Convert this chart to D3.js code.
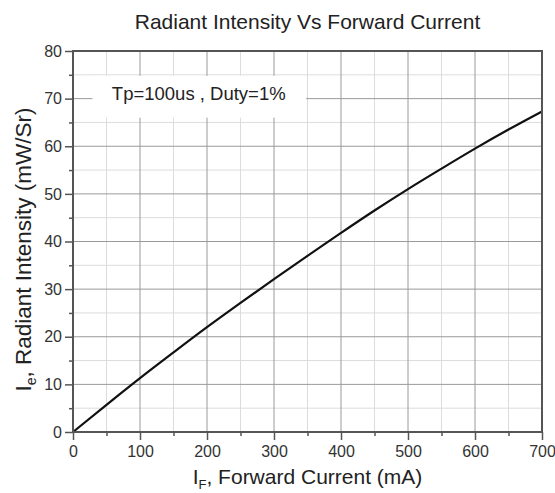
<!DOCTYPE html>
<html>
<head>
<meta charset="utf-8">
<script src="https://cdn.jsdelivr.net/npm/d3@7"></script>
<style>
  body { margin: 0; background: #fff; }
  svg { font-family: "Liberation Sans", Arial, sans-serif; }
</style>
</head>
<body>
<svg width="555" height="493"></svg>
<script>
  // forward current (mA) vs radiant intensity (mW/Sr)
  const currents = [0, 50, 100, 150, 200, 250, 300, 350, 400, 450, 500, 550, 600, 650, 700];
  const intensity = [0, 5.7, 11.3, 16.7, 22.0, 27.1, 32.1, 37.0, 41.8, 46.5, 51.0, 55.3, 59.5, 63.5, 67.3];

  const xTicks = [0, 100, 200, 300, 400, 500, 600, 700];
  const yTicks = [0, 10, 20, 30, 40, 50, 60, 70, 80];
  const xMinor = d3.range(50, 700, 100);
  const yMinor = d3.range(5, 80, 10);

  const titleText = "Radiant Intensity Vs Forward Current";
  const noteText = "Tp=100us , Duty=1%";

  const svg = d3.select("svg");
  const margin = { top: 51, right: 13, bottom: 61, left: 73 };
  const width = +svg.attr("width") - margin.left - margin.right;
  const height = +svg.attr("height") - margin.top - margin.bottom;
  const g = svg.append("g").attr("transform", `translate(${margin.left},${margin.top})`);

  const x = d3.scaleLinear().domain([0, 700]).range([0, width]);
  const y = d3.scaleLinear().domain([0, 80]).range([height, 0]);

  // minor grid
  g.append("g").selectAll("line")
    .data(xMinor)
    .join("line")
      .attr("x1", d => x(d)).attr("x2", d => x(d))
      .attr("y1", 0).attr("y2", height)
      .attr("stroke", "#dcdcdc");
  g.append("g").selectAll("line")
    .data(yMinor)
    .join("line")
      .attr("y1", d => y(d)).attr("y2", d => y(d))
      .attr("x1", 0).attr("x2", width)
      .attr("stroke", "#dcdcdc");

  // major grid
  g.append("g").selectAll("line")
    .data(xTicks.slice(1, -1))
    .join("line")
      .attr("x1", d => x(d)).attr("x2", d => x(d))
      .attr("y1", 0).attr("y2", height)
      .attr("stroke", "#9a9a9a");
  g.append("g").selectAll("line")
    .data(yTicks.slice(1, -1))
    .join("line")
      .attr("y1", d => y(d)).attr("y2", d => y(d))
      .attr("x1", 0).attr("x2", width)
      .attr("stroke", "#9a9a9a");

  // note box covers the grid
  g.append("rect")
    .attr("x", x(29))
    .attr("y", y(74.8))
    .attr("width", x(348) - x(29))
    .attr("height", y(66) - y(74.8))
    .attr("fill", "#fff");

  g.append("text")
    .attr("x", x(58))
    .attr("y", y(69.8))
    .style("font-size", "18.5px")
    .attr("fill", "#222")
    .text(noteText);

  // curve
  const line = d3.line()
    .x((d, i) => x(currents[i]))
    .y(d => y(d))
    .curve(d3.curveMonotoneX);

  g.append("path")
    .datum(intensity)
    .attr("fill", "none")
    .attr("stroke", "#111")
    .attr("stroke-width", 2.2)
    .attr("d", line);

  // axes
  const xAxis = g.append("g")
    .attr("transform", `translate(0,${height})`)
    .call(d3.axisBottom(x).tickValues(xTicks).tickSize(8).tickPadding(6).tickFormat(d3.format("d")));
  const yAxis = g.append("g")
    .call(d3.axisLeft(y).tickValues(yTicks).tickSize(8).tickPadding(3).tickFormat(d3.format("d")));

  g.append("g")
    .attr("transform", `translate(0,${height})`)
    .call(d3.axisBottom(x).tickValues(xMinor).tickSize(4).tickFormat(""))
    .call(a => a.select(".domain").remove());
  g.append("g")
    .call(d3.axisLeft(y).tickValues(yMinor).tickSize(4).tickFormat(""))
    .call(a => a.select(".domain").remove());

  [xAxis, yAxis].forEach(a => {
    a.select(".domain").remove();
    a.selectAll("text").style("font-size", "16px").attr("fill", "#333");
  });
  g.selectAll(".tick line").attr("stroke", "#555").attr("stroke-width", 1.5);

  // frame
  g.append("rect")
    .attr("width", width)
    .attr("height", height)
    .attr("fill", "none")
    .attr("stroke", "#555")
    .attr("stroke-width", 2);

  // title and axis labels
  svg.append("text")
    .attr("x", margin.left + width / 2)
    .attr("y", 29)
    .attr("text-anchor", "middle")
    .style("font-size", "21px")
    .attr("fill", "#222")
    .text(titleText);

  const xl = svg.append("text")
    .attr("x", margin.left + width / 2)
    .attr("y", 484)
    .attr("text-anchor", "middle")
    .style("font-size", "21px")
    .attr("fill", "#222");
  xl.append("tspan").text("I");
  xl.append("tspan").attr("dy", 5).style("font-size", "13px").text("F");
  xl.append("tspan").attr("dy", -5).text(", Forward Current (mA)");

  const yl = svg.append("text")
    .attr("transform", `translate(31,${margin.top + height / 2 + 8}) rotate(-90)`)
    .attr("text-anchor", "middle")
    .style("font-size", "22.5px")
    .attr("fill", "#222");
  yl.append("tspan").text("I");
  yl.append("tspan").attr("dy", 5).style("font-size", "14px").text("e");
  yl.append("tspan").attr("dy", -5).text(", Radiant Intensity (mW/Sr)");
</script>
</body>
</html>
